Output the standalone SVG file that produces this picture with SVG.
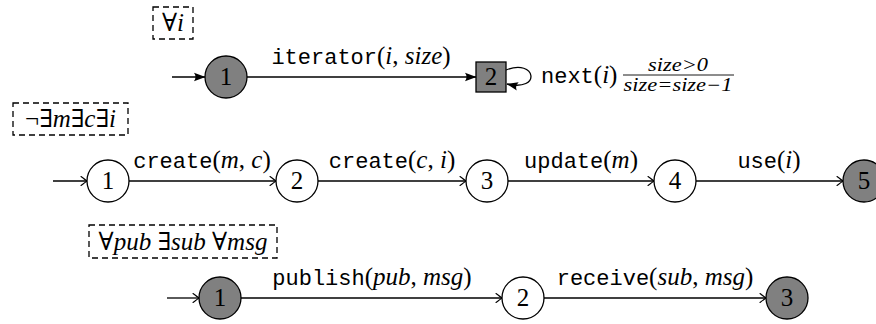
<svg xmlns="http://www.w3.org/2000/svg" width="876" height="324" viewBox="0 0 876 324">
  <defs>
    <style>
      .st { fill: #fff; stroke: #000; stroke-width: 1.3; }
      .acc { fill: #808080; stroke: #000; stroke-width: 1.3; }
      .q { fill: none; stroke: #000; stroke-width: 1.3; stroke-dasharray: 6 4; }
      .e { fill: none; stroke: #000; stroke-width: 1.3; }
      .eb { marker-end: url(#latex); }
      .et { marker-end: url(#to); }
      .num { text-anchor: middle; }
      .lbl { text-anchor: middle; }
      .it { font-style: italic; }
      .frac { font-size: 18px; text-anchor: middle; font-style: italic; }
    </style>
    <marker id="latex" viewBox="0 0 12 10" refX="11" refY="5" markerWidth="12" markerHeight="10" markerUnits="userSpaceOnUse" orient="auto">
      <path d="M0,0.8 Q3,5 0,9.2 L11.5,5 Z" fill="#000"/>
    </marker>
    <marker id="to" viewBox="-8 -6 10 12" refX="0" refY="0" markerWidth="10" markerHeight="12" markerUnits="userSpaceOnUse" orient="auto">
      <path d="M-6,-4.5 Q-1.5,-1 0,0 Q-1.5,1 -6,4.5" fill="none" stroke="#000" stroke-width="1.1" stroke-linecap="round"/>
    </marker>
  </defs>

  <g font-family="Liberation Serif, Times New Roman, DejaVu Serif, serif" font-size="25" fill="#000">
  <!-- connectors -->
  <g id="edges">
    <!-- iterator automaton -->
    <line class="e eb" x1="172" y1="77" x2="205" y2="77"/>
    <line class="e eb" x1="247" y1="77" x2="476" y2="77"/>
    <path class="e eb" d="M506,70 C536,58 542,92 507,84"/>
    <text class="lbl" x="361" y="64"><tspan font-family="Liberation Mono, Courier New, monospace" font-size="22">iterator</tspan>(<tspan class="it">i</tspan>, <tspan class="it">size</tspan>)</text>
    <text x="541" y="83"><tspan font-family="Liberation Mono, Courier New, monospace" font-size="22">next</tspan>(<tspan class="it">i</tspan>)</text>
    <text class="frac" x="678" y="71" textLength="60" lengthAdjust="spacingAndGlyphs">size&gt;0</text>
    <line x1="623" y1="75" x2="734" y2="75" stroke="#000" stroke-width="0.9"/>
    <text class="frac" x="678" y="91" textLength="109" lengthAdjust="spacingAndGlyphs">size=size−1</text>

    <!-- create/update/use automaton -->
    <line class="e et" x1="53" y1="181" x2="87" y2="181"/>
    <line class="e et" x1="129" y1="181" x2="276" y2="181"/>
    <line class="e et" x1="318" y1="181" x2="466" y2="181"/>
    <line class="e et" x1="508" y1="181" x2="654" y2="181"/>
    <line class="e et" x1="696" y1="181" x2="843" y2="181"/>
    <text class="lbl" x="202" y="168"><tspan font-family="Liberation Mono, Courier New, monospace" font-size="22">create</tspan>(<tspan class="it">m</tspan>, <tspan class="it">c</tspan>)</text>
    <text class="lbl" x="392" y="168"><tspan font-family="Liberation Mono, Courier New, monospace" font-size="22">create</tspan>(<tspan class="it">c</tspan>, <tspan class="it">i</tspan>)</text>
    <text class="lbl" x="581" y="168"><tspan font-family="Liberation Mono, Courier New, monospace" font-size="22">update</tspan>(<tspan class="it">m</tspan>)</text>
    <text class="lbl" x="769" y="168"><tspan font-family="Liberation Mono, Courier New, monospace" font-size="22">use</tspan>(<tspan class="it">i</tspan>)</text>

    <!-- publish/receive automaton -->
    <line class="e et" x1="167" y1="298" x2="199" y2="298"/>
    <line class="e et" x1="241" y1="298" x2="502" y2="298"/>
    <line class="e et" x1="544" y1="298" x2="766" y2="298"/>
    <text class="lbl" x="372" y="285"><tspan font-family="Liberation Mono, Courier New, monospace" font-size="22">publish</tspan>(<tspan class="it">pub</tspan>, <tspan class="it">msg</tspan>)</text>
    <text class="lbl" x="655" y="285"><tspan font-family="Liberation Mono, Courier New, monospace" font-size="22">receive</tspan>(<tspan class="it">sub</tspan>, <tspan class="it">msg</tspan>)</text>
  </g>

  <!-- quantifier annotations -->
  <g id="quant-iter">
    <rect class="q" x="153" y="7" width="40" height="32"/>
    <text class="num" x="173" y="31">∀<tspan class="it">i</tspan></text>
  </g>
  <g id="quant-create">
    <rect class="q" x="13" y="103" width="115" height="32"/>
    <text class="num" x="70.5" y="127">¬∃<tspan class="it">m</tspan>∃<tspan class="it">c</tspan>∃<tspan class="it">i</tspan></text>
  </g>
  <g id="quant-pubsub">
    <rect class="q" x="89" y="225" width="188" height="33"/>
    <text class="num" x="183" y="250">∀<tspan class="it">pub</tspan> ∃<tspan class="it">sub</tspan> ∀<tspan class="it">msg</tspan></text>
  </g>

  <!-- iterator states -->
  <g id="it-1">
    <circle class="acc" cx="226" cy="77" r="21"/>
    <text class="num" x="226" y="85">1</text>
  </g>
  <g id="it-2">
    <rect class="acc" x="476" y="62" width="30" height="30"/>
    <text class="num" x="491" y="85">2</text>
  </g>

  <!-- create/update/use states -->
  <g id="cu-1">
    <circle class="st" cx="108" cy="181" r="21"/>
    <text class="num" x="108" y="189">1</text>
  </g>
  <g id="cu-2">
    <circle class="st" cx="297" cy="181" r="21"/>
    <text class="num" x="297" y="189">2</text>
  </g>
  <g id="cu-3">
    <circle class="st" cx="487" cy="181" r="21"/>
    <text class="num" x="487" y="189">3</text>
  </g>
  <g id="cu-4">
    <circle class="st" cx="675" cy="181" r="21"/>
    <text class="num" x="675" y="189">4</text>
  </g>
  <g id="cu-5">
    <circle class="acc" cx="864" cy="181" r="21"/>
    <text class="num" x="864" y="189">5</text>
  </g>

  <!-- publish/receive states -->
  <g id="pr-1">
    <circle class="acc" cx="220" cy="298" r="21"/>
    <text class="num" x="220" y="306">1</text>
  </g>
  <g id="pr-2">
    <circle class="st" cx="523" cy="298" r="21"/>
    <text class="num" x="523" y="306">2</text>
  </g>
  <g id="pr-3">
    <circle class="acc" cx="787" cy="298" r="21"/>
    <text class="num" x="787" y="306">3</text>
  </g>
  </g>
</svg>
